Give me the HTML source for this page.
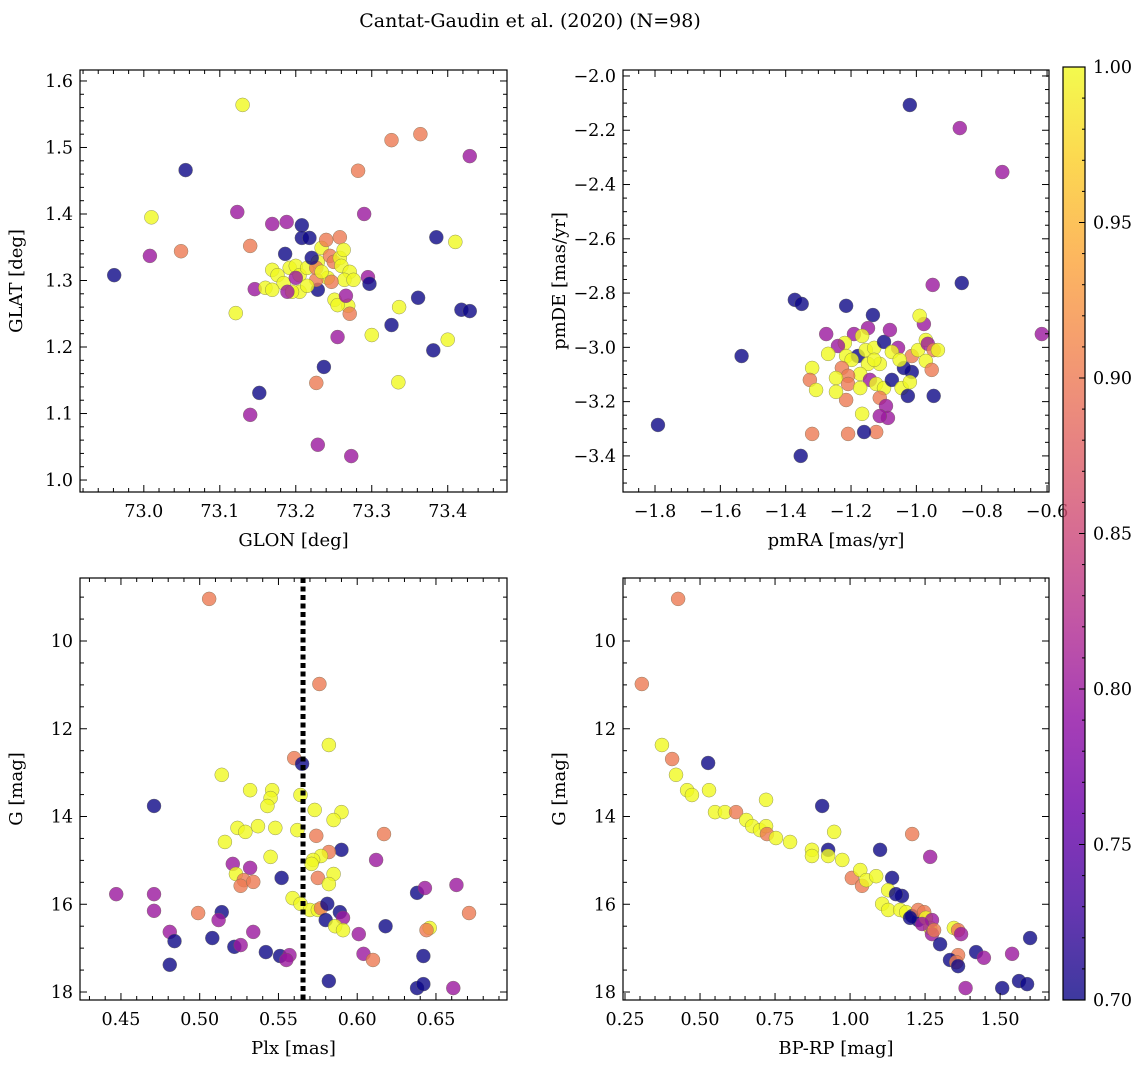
<!DOCTYPE html>
<html><head><meta charset="utf-8"><style>
body{margin:0;background:#fff;}
svg text{font-family:"DejaVu Serif","Liberation Serif",serif;fill:#000;}
</style></head><body>
<svg id="fig" width="1148" height="1067" viewBox="0 0 1148 1067" xmlns="http://www.w3.org/2000/svg">
<text x="530" y="27" font-size="19" text-anchor="middle">Cantat-Gaudin et al. (2020) (N=98)</text>
</svg>
<script>
// ---- data ----
const tlGlon=[72.961,73.055,73.010,73.008,73.049,73.130,73.123,73.121,73.140,73.146,73.152,73.140,73.169,73.188,73.208,73.208,73.218,73.186,73.169,73.176,73.184,73.160,73.169,73.192,73.200,73.205,73.215,73.229,73.234,73.245,73.250,73.258,73.260,73.271,73.264,73.242,73.229,73.227,73.205,73.215,73.195,73.200,73.189,73.227,73.240,73.258,73.263,73.247,73.234,73.221,73.251,73.269,73.255,73.266,73.271,73.255,73.276,73.290,73.282,73.295,73.297,73.326,73.364,73.429,73.410,73.385,73.336,73.300,73.335,73.326,73.361,73.381,73.400,73.418,73.429,73.237,73.227,73.229,73.273];
const tlGlat=[1.308,1.466,1.395,1.337,1.344,1.564,1.403,1.251,1.352,1.287,1.131,1.098,1.385,1.388,1.383,1.364,1.364,1.340,1.316,1.308,1.296,1.289,1.286,1.319,1.322,1.308,1.319,1.328,1.349,1.337,1.328,1.334,1.322,1.313,1.301,1.304,1.286,1.301,1.283,1.292,1.283,1.304,1.283,1.319,1.361,1.365,1.346,1.298,1.313,1.334,1.271,1.262,1.263,1.277,1.250,1.215,1.301,1.400,1.465,1.305,1.295,1.511,1.520,1.487,1.358,1.365,1.260,1.218,1.147,1.233,1.274,1.195,1.211,1.256,1.254,1.170,1.146,1.053,1.036];
const tlProb=[0.7,0.7,1,0.8,0.9,1,0.8,1,0.9,0.8,0.7,0.8,0.8,0.8,0.7,0.7,0.7,0.7,1,1,1,1,1,1,1,1,1,1,1,0.9,0.9,1,1,1,1,1,0.7,0.9,1,1,1,0.8,0.8,0.9,0.9,0.9,1,0.9,1,0.7,1,1,1,0.8,0.9,0.8,1,0.8,0.9,0.8,0.7,0.9,0.9,0.8,1,0.7,1,1,1,0.7,0.7,0.7,1,0.7,0.7,0.7,0.9,0.8,0.8];

const trPmra=[-1.791,-1.535,-1.372,-1.351,-1.354,-1.020,-0.867,-0.737,-0.861,-0.616,-0.950,-1.215,-1.133,-1.191,-1.148,-1.276,-1.219,-1.240,-1.270,-1.215,-1.179,-1.155,-1.129,-1.099,-1.081,-1.056,-1.014,-0.995,-0.977,-0.971,-0.990,-0.965,-0.947,-0.971,-0.953,-1.014,-1.038,-1.075,-1.112,-1.148,-1.172,-1.198,-1.228,-1.209,-1.246,-1.319,-1.326,-1.307,-1.142,-1.123,-1.099,-1.075,-1.045,-1.112,-1.093,-1.087,-1.112,-1.123,-1.160,-1.166,-1.215,-1.209,-1.246,-1.319,-1.209,-1.026,-0.947,-1.051,-1.020,-1.172,-1.129,-1.166,-0.934];
const trPmde=[-3.286,-3.032,-2.825,-2.840,-3.400,-2.107,-2.192,-2.354,-2.763,-2.951,-2.770,-2.847,-2.881,-2.951,-2.929,-2.951,-2.984,-2.995,-3.024,-3.032,-3.032,-3.010,-3.002,-2.980,-2.936,-3.002,-3.032,-3.010,-2.914,-2.973,-2.884,-2.987,-3.010,-3.050,-3.083,-3.091,-3.076,-3.017,-3.061,-3.061,-3.098,-3.046,-3.076,-3.105,-3.113,-3.076,-3.120,-3.157,-3.120,-3.135,-3.150,-3.120,-3.150,-3.186,-3.216,-3.260,-3.253,-3.312,-3.312,-3.245,-3.194,-3.135,-3.164,-3.319,-3.319,-3.179,-3.179,-3.046,-3.128,-3.150,-3.046,-2.958,-3.010];
const trProb=[0.7,0.7,0.7,0.7,0.7,0.7,0.8,0.8,0.7,0.8,0.8,0.7,0.7,0.8,0.8,0.8,1,0.8,1,1,0.7,1,1,0.7,0.8,0.8,0.9,1,0.8,1,1,0.8,0.9,1,0.9,0.7,0.7,1,1,1,1,1,0.9,0.9,1,1,0.9,1,0.8,1,1,0.7,1,0.9,0.8,0.8,0.8,0.9,0.7,1,0.9,0.9,1,0.9,0.9,0.7,0.7,1,1,1,1,1,1];

const blPlx=[0.506,0.576,0.582,0.560,0.565,0.514,0.471,0.532,0.546,0.545,0.543,0.564,0.573,0.590,0.585,0.524,0.529,0.537,0.548,0.562,0.516,0.545,0.617,0.574,0.590,0.582,0.577,0.572,0.571,0.521,0.532,0.612,0.523,0.528,0.526,0.534,0.552,0.575,0.585,0.582,0.447,0.471,0.471,0.499,0.514,0.512,0.559,0.564,0.570,0.575,0.577,0.581,0.589,0.591,0.580,0.586,0.591,0.601,0.618,0.638,0.643,0.646,0.644,0.671,0.663,0.481,0.484,0.481,0.508,0.522,0.534,0.542,0.526,0.551,0.557,0.555,0.582,0.604,0.610,0.642,0.638,0.642,0.661];
const blG=[9.04,10.98,12.37,12.67,12.80,13.05,13.76,13.40,13.40,13.58,13.76,13.51,13.85,13.90,14.08,14.26,14.35,14.22,14.26,14.31,14.58,14.92,14.40,14.44,14.76,14.81,14.90,14.99,15.08,15.08,15.17,14.99,15.31,15.45,15.58,15.49,15.40,15.40,15.31,15.54,15.77,15.77,16.15,16.20,16.18,16.36,15.86,15.99,16.13,16.13,16.09,15.99,16.18,16.31,16.36,16.50,16.59,16.68,16.50,15.74,15.63,16.54,16.59,16.20,15.56,16.63,16.84,17.38,16.77,16.97,16.63,17.09,16.93,17.18,17.16,17.27,17.75,17.13,17.27,17.18,17.91,17.82,17.91];
const blProb=[0.9,0.9,1,0.9,0.7,1,0.7,1,1,1,1,1,1,1,1,1,1,1,1,1,1,1,0.9,0.9,0.7,0.9,1,1,1,0.8,0.8,0.8,1,0.9,0.9,0.9,0.7,0.9,1,1,0.8,0.8,0.8,0.9,0.7,0.8,1,1,1,1,0.9,0.7,0.7,0.8,0.7,1,1,0.8,0.7,0.7,0.8,1,0.9,0.9,0.8,0.8,0.7,0.7,0.7,0.7,0.8,0.7,0.8,0.7,0.8,0.8,0.7,0.8,0.9,0.7,0.7,0.7,0.8];

const brBpRp=[0.427,0.306,0.373,0.407,0.420,0.457,0.473,0.527,0.530,0.550,0.583,0.620,0.654,0.674,0.700,0.720,0.723,0.720,0.753,0.800,0.907,0.873,0.873,0.927,0.927,0.974,0.947,1.006,1.034,1.040,1.054,1.087,1.100,1.207,1.140,1.127,1.173,1.153,1.107,1.127,1.167,1.187,1.207,1.227,1.227,1.247,1.253,1.267,1.273,1.240,1.200,1.273,1.280,1.300,1.346,1.360,1.370,1.360,1.333,1.354,1.360,1.267,1.420,1.446,1.540,1.600,1.507,1.563,1.590,1.385];
const brG=[9.04,10.98,12.37,12.69,13.05,13.40,13.51,12.78,13.40,13.90,13.90,13.90,14.08,14.22,14.31,14.22,14.40,13.62,14.49,14.58,13.76,14.76,14.90,14.76,14.90,14.99,14.35,15.40,15.22,15.58,15.45,15.36,14.76,14.40,15.40,15.68,15.81,15.77,15.99,16.13,16.13,16.18,16.27,16.36,16.13,16.18,16.31,16.54,16.36,16.45,16.31,16.68,16.59,16.91,16.54,16.59,16.68,17.16,17.27,17.32,17.41,14.92,17.09,17.22,17.13,16.77,17.91,17.75,17.82,17.91];
const brProb=[0.9,0.9,1,0.9,1,1,1,0.7,1,1,1,0.9,1,1,1,1,0.9,1,1,1,0.7,1,1,0.7,1,1,1,0.9,1,0.9,1,1,0.7,0.9,0.7,1,0.7,0.7,1,1,1,1,0.7,0.7,0.9,0.9,1,1,0.8,0.8,0.7,0.8,0.9,0.7,1,0.9,0.8,0.9,0.7,0.9,0.7,0.8,0.7,0.8,0.8,0.7,0.7,0.7,0.7,0.8];

const plxLine=0.5656;
const cbTicks=[0.70,0.75,0.80,0.85,0.90,0.95,1.00];

// ---- drawing ----
const NS="http://www.w3.org/2000/svg";
const svg=document.getElementById('fig');
function mk(tag,attrs,parent){const e=document.createElementNS(NS,tag);for(const k in attrs)e.setAttribute(k,attrs[k]);(parent||svg).appendChild(e);return e;}
const stops=[[13,8,135],[65,4,157],[106,0,168],[143,13,164],[177,42,144],[204,71,120],[225,100,98],[242,132,75],[252,166,54],[252,206,37],[240,249,33]];
function plasma(t){t=Math.max(0,Math.min(1,t));const f=t*10,i=Math.min(9,Math.floor(f)),r=f-i;const a=stops[i],b=stops[i+1];return 'rgb('+a.map((v,k)=>Math.round(v+(b[k]-v)*r)).join(',')+')';}
function col(p){return plasma((p-0.7)/0.3);}
function fmtMinus(s){return s.replace('-','\u2212');}

function panel(cfg){
  const g=mk('g',{});
  
  
  const sx=v=>cfg.x0+(v-cfg.xd[0])/(cfg.xd[1]-cfg.xd[0])*(cfg.x1-cfg.x0);
  const sy=v=>cfg.y0+(cfg.yd[1]-v)/(cfg.yd[1]-cfg.yd[0])*(cfg.y1-cfg.y0);
  const syI=v=>cfg.y0+(v-cfg.yd[0])/(cfg.yd[1]-cfg.yd[0])*(cfg.y1-cfg.y0);
  const Y=cfg.invert?syI:sy;
  const pg=mk('g',{},g);
  
  
  for(let i=0;i<cfg.xs.length;i++){
    const c=mk('circle',{cx:sx(cfg.xs[i]),cy:Y(cfg.ys[i]),r:7,fill:col(cfg.cs[i]),'fill-opacity':0.8,stroke:'#6b6b50','stroke-width':0.5,'stroke-opacity':0.7},pg);
    
    
  }
  if(cfg.vline!==undefined){
    const l=mk('line',{x1:sx(cfg.vline),x2:sx(cfg.vline),y1:cfg.y0,y2:cfg.y1,stroke:'#000','stroke-width':5,'stroke-dasharray':'5,3.5'},g);
    
    
  }
  const fr=mk('rect',{x:cfg.x0,y:cfg.y0,width:cfg.x1-cfg.x0,height:cfg.y1-cfg.y0,fill:'none',stroke:'#000','stroke-width':1.2},g);
  
  
  const eps=1e-9;
  const xmin=Math.min(...cfg.xd),xmax=Math.max(...cfg.xd);
  for(let k=Math.ceil(xmin/cfg.xmin-eps);k*cfg.xmin<=xmax+eps;k++){
    const v=k*cfg.xmin;const x=sx(v);const maj=Math.abs(v/cfg.xmaj-Math.round(v/cfg.xmaj))<1e-4;const L=maj?7:4;
    mk('line',{x1:x,x2:x,y1:cfg.y1,y2:cfg.y1-L,stroke:'#000','stroke-width':1},g);
    mk('line',{x1:x,x2:x,y1:cfg.y0,y2:cfg.y0+L,stroke:'#000','stroke-width':1},g);
    if(maj){const t=mk('text',{x:x,y:cfg.y1+25,'font-size':17.5,'text-anchor':'middle'},g);t.textContent=fmtMinus(v.toFixed(cfg.xdec));
      }
  }
  const ymin=Math.min(...cfg.yd),ymax=Math.max(...cfg.yd);
  for(let k=Math.ceil(ymin/cfg.ymin-eps);k*cfg.ymin<=ymax+eps;k++){
    const v=k*cfg.ymin;const y=Y(v);const maj=Math.abs(v/cfg.ymaj-Math.round(v/cfg.ymaj))<1e-4;const L=maj?7:4;
    mk('line',{x1:cfg.x0,x2:cfg.x0+L,y1:y,y2:y,stroke:'#000','stroke-width':1},g);
    mk('line',{x1:cfg.x1,x2:cfg.x1-L,y1:y,y2:y,stroke:'#000','stroke-width':1},g);
    if(maj){const t=mk('text',{x:cfg.x0-7,y:y+6,'font-size':17.5,'text-anchor':'end'},g);t.textContent=fmtMinus(v.toFixed(cfg.ydec));
      }
  }
  const xl=mk('text',{x:(cfg.x0+cfg.x1)/2,y:cfg.y1+54,'font-size':18,'text-anchor':'middle'},g);xl.textContent=cfg.xlabel;
  
  const yx=cfg.x0-58, yy=(cfg.y0+cfg.y1)/2;
  const yl=mk('text',{x:yx,y:yy,'font-size':18,'text-anchor':'middle',transform:'rotate(-90 '+yx+' '+yy+')'},g);yl.textContent=cfg.ylabel;
  
}

panel({name:'glon-glat-panel',x0:80,x1:507,y0:70,y1:492,xd:[72.916,73.478],yd:[0.982,1.6165],xmaj:0.1,xmin:0.02,ymaj:0.1,ymin:0.02,xdec:1,ydec:1,xs:tlGlon,ys:tlGlat,cs:tlProb,xlabel:'GLON [deg]',ylabel:'GLAT [deg]'});
panel({name:'proper-motion-panel',x0:623,x1:1049,y0:70,y1:492,xd:[-1.898,-0.594],yd:[-3.533,-1.978],xmaj:0.2,xmin:0.05,ymaj:0.2,ymin:0.05,xdec:1,ydec:1,xs:trPmra,ys:trPmde,cs:trProb,xlabel:'pmRA [mas/yr]',ylabel:'pmDE [mas/yr]'});
panel({name:'parallax-mag-panel',x0:80,x1:507,y0:578,y1:1000,xd:[0.424,0.6951],yd:[8.564,18.182],invert:true,xmaj:0.05,xmin:0.01,ymaj:2,ymin:0.5,xdec:2,ydec:0,xs:blPlx,ys:blG,cs:blProb,vline:plxLine,xlabel:'Plx [mas]',ylabel:'G [mag]'});
panel({name:'cmd-panel',x0:623,x1:1049,y0:578,y1:1000,xd:[0.2433,1.663],yd:[8.564,18.182],invert:true,xmaj:0.25,xmin:0.05,ymaj:2,ymin:0.5,xdec:2,ydec:0,xs:brBpRp,ys:brG,cs:brProb,xlabel:'BP-RP [mag]',ylabel:'G [mag]'});

const cb=mk('g',{});


const defs=mk('defs',{},cb);
const lg=mk('linearGradient',{id:'cbg',x1:0,y1:1,x2:0,y2:0},defs);
for(let i=0;i<=20;i++){mk('stop',{offset:i/20,'stop-color':plasma(i/20),'stop-opacity':0.8},lg);}
const cbx0=1063,cbx1=1085,cby0=67,cby1=1000;
mk('rect',{x:cbx0,y:cby0,width:cbx1-cbx0,height:cby1-cby0,fill:'url(#cbg)',stroke:'#000','stroke-width':1.2},cb);
const cy=v=>cby1-(v-0.7)/0.3*(cby1-cby0);
for(let k=0;k<=30;k++){const v=0.7+k*0.01;const y=cy(v);const maj=k%5===0;
  mk('line',{x1:cbx1,x2:cbx1-(maj?6:3),y1:y,y2:y,stroke:'#000','stroke-width':1},cb);}
cbTicks.forEach(v=>{const t=mk('text',{x:1093,y:cy(v)+6,'font-size':17.5},cb);t.textContent=v.toFixed(2);
  });
</script>
</body></html>
